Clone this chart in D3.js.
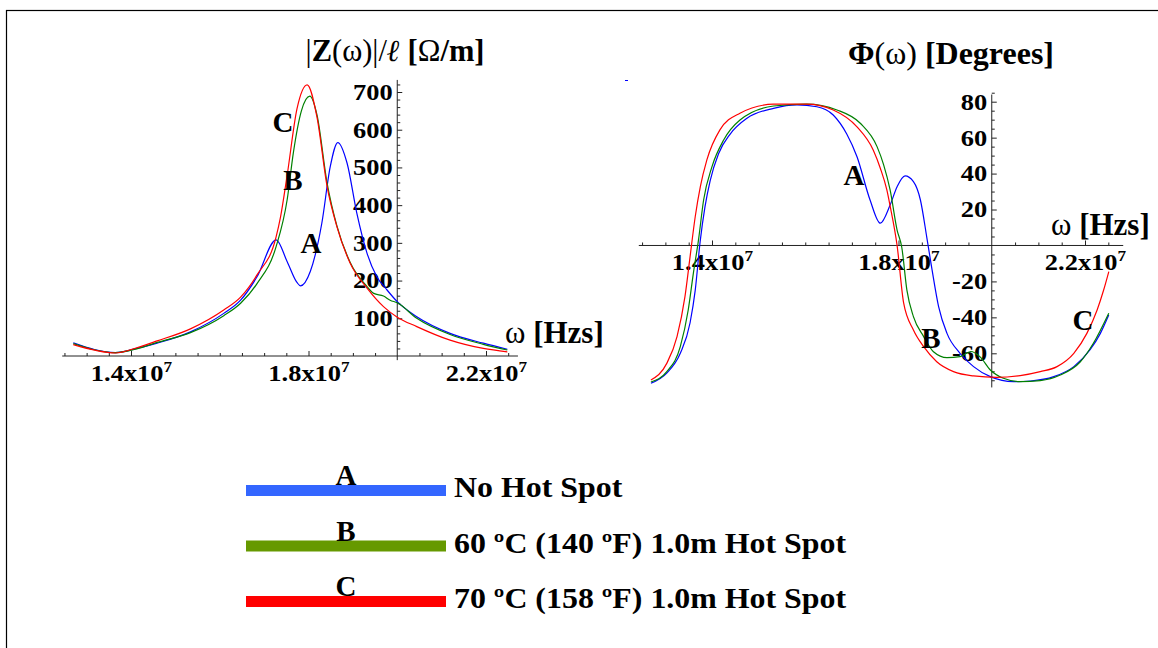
<!DOCTYPE html>
<html>
<head>
<meta charset="utf-8">
<script src="https://cdn.jsdelivr.net/npm/d3@7"></script>
<style>
  body { margin: 0; background: #fff; }
  svg { display: block; }
  text { font-family: "Liberation Serif", "Times New Roman", serif; font-weight: bold; fill: #000; }
</style>
</head>
<body>
<svg id="chart" width="1158" height="648"></svg>
<script>
// ---- data (frequency in units of 1e7 Hz) ----
// |Z(w)|/l  [Ohm/m]
const magFreqA = [1.27, 1.365, 1.413, 1.459, 1.534, 1.609, 1.647, 1.684, 1.727, 1.752, 1.774, 1.782, 1.804, 1.830, 1.849, 1.866, 1.887, 1.909, 1.932, 1.954, 1.977, 2.0, 2.044, 2.119, 2.194, 2.248];
const magA     = [35, 9, 20, 34, 64, 113, 148, 210, 308, 250, 195, 186, 224, 352, 502, 566, 511, 378, 272, 210, 175, 144, 104, 60, 34, 18];
const magFreqB = [1.27, 1.365, 1.413, 1.459, 1.534, 1.609, 1.647, 1.684, 1.727, 1.752, 1.766, 1.784, 1.803, 1.819, 1.842, 1.864, 1.894, 1.932, 1.947, 1.969, 1.984, 2.0, 2.044, 2.119, 2.194, 2.248];
const magB     = [33, 9, 19, 36, 62, 107, 140, 192, 290, 415, 540, 650, 689, 640, 458, 345, 248, 184, 166, 159, 148, 141, 100, 57, 31, 16];
const magFreqC = [1.27, 1.365, 1.413, 1.459, 1.534, 1.609, 1.647, 1.684, 1.727, 1.737, 1.752, 1.774, 1.797, 1.819, 1.842, 1.864, 1.894, 1.932, 1.969, 2.0, 2.044, 2.119, 2.194, 2.248];
const magC     = [30, 8, 22, 40, 72, 122, 156, 215, 316, 369, 480, 655, 719, 634, 449, 343, 246, 180, 131, 103, 78, 42, 20, 11];

// Phi(w) [degrees]
const phaseFreqA = [1.269, 1.303, 1.332, 1.353, 1.364, 1.3745, 1.385, 1.396, 1.414, 1.439, 1.475, 1.532, 1.582, 1.625, 1.66, 1.689, 1.711, 1.739, 1.761, 1.782, 1.797, 1.814, 1.832, 1.847, 1.861, 1.872, 1.886, 1.904, 1.932, 1.961, 1.997, 2.047, 2.083, 2.133, 2.176, 2.211, 2.233, 2.251];
const phaseA     = [-76.7, -71, -60, -43, -25, 2, 21.6, 36, 51, 62, 70.8, 76.3, 78.2, 77.2, 72.6, 62, 49.4, 25.3, 12.4, 22.5, 32.7, 38.7, 35.5, 25.3, 4, -13.6, -34, -48.9, -60, -67.4, -73, -75.8, -75.4, -73, -67.4, -58, -48.9, -38.7];
const phaseFreqB = [1.269, 1.303, 1.332, 1.349, 1.36, 1.371, 1.382, 1.40, 1.425, 1.46, 1.532, 1.603, 1.668, 1.718, 1.754, 1.768, 1.782, 1.797, 1.807, 1.818, 1.832, 1.854, 1.875, 1.904, 1.932, 1.955, 1.975, 1.997, 2.025, 2.061, 2.104, 2.147, 2.19, 2.218, 2.251];
const phaseB     = [-76, -70.2, -56.3, -35.9, -15.5, 3, 25.3, 43.9, 58.7, 69.8, 77.6, 78.7, 75.4, 68, 55, 45, 30.9, 8.6, -1, -24.8, -39.6, -50.7, -59.1, -62.4, -61.9, -59, -62, -69.3, -73.9, -75.8, -75.2, -72.1, -64.7, -54.4, -37.7];
const phaseFreqC = [1.269, 1.303, 1.325, 1.342, 1.353, 1.364, 1.375, 1.389, 1.417, 1.46, 1.532, 1.603, 1.66, 1.711, 1.746, 1.761, 1.775, 1.782, 1.797, 1.811, 1.832, 1.854, 1.882, 1.918, 1.961, 2.011, 2.061, 2.104, 2.14, 2.176, 2.204, 2.226, 2.24, 2.251];
const phaseC     = [-74.8, -65.6, -50.7, -28.5, -6.2, 16, 32.7, 47.6, 64.3, 73.6, 78.6, 78.7, 75.4, 66, 53, 43, 30.9, 22, 0, -32, -47, -56.3, -64.7, -70.2, -72.6, -73.4, -72.4, -70.2, -67.4, -60, -48.9, -35.9, -24.8, -14.6];

// ticks
const freqTicks = [1.4, 1.8, 2.2];
const magTicks = [100, 200, 300, 400, 500, 600, 700];
const phaseTicks = [-60, -40, -20, 20, 40, 60, 80];

// series / legend
const seriesNames = ["A", "B", "C"];
const legendLabels = ["No Hot Spot", "60 ºC (140 ºF) 1.0m Hot Spot", "70 ºC (158 ºF) 1.0m Hot Spot"];
const lineColors = ["#0000ff", "#008000", "#ff0000"];
const legendColors = ["#3366ff", "#669900", "#ff0000"];

// curve letter positions (data coords)
const magLabelPos = [[1.8056, 272], [1.765, 441], [1.7425, 593]];
const phaseLabelPos = [[1.7046, 33.9], [1.8697, -56.8], [2.1957, -47.3]];

const svg = d3.select("#chart");

// frame
svg.append("rect")
    .attr("x", 6.5).attr("y", 10.5)
    .attr("width", 1170).attr("height", 660)
    .attr("fill", "none").attr("stroke", "#000").attr("stroke-width", 1.2);

// stray blue dash in the original
svg.append("line")
    .attr("x1", 625).attr("x2", 628).attr("y1", 80.5).attr("y2", 80.5)
    .attr("stroke", "#0000ff").attr("stroke-width", 1);

// minor ticks every 0.05e7, skipping majors and the 2.0 axis crossing
const minorFreq = d3.range(125, 230, 5).map(v => v / 100)
    .filter(v => !freqTicks.some(t => Math.abs(t - v) < 1e-6) && Math.abs(v - 2.0) > 1e-6);

function drawPanel(p) {
    const g = svg.append("g");
    const x0 = p.x(p.originX), y0 = p.y(0);

    // x axis
    g.append("line")
        .attr("x1", p.x(p.xExtent[0])).attr("x2", p.x(p.xExtent[1]))
        .attr("y1", y0).attr("y2", y0)
        .attr("stroke", "#222").attr("stroke-width", 1);
    // y axis
    g.append("line")
        .attr("x1", x0).attr("x2", x0)
        .attr("y1", p.y(p.yExtent[0])).attr("y2", p.y(p.yExtent[1]))
        .attr("stroke", "#222").attr("stroke-width", 1);

    // x ticks
    const xMinor = g.append("g").attr("transform", `translate(0,${y0})`)
        .call(d3.axisBottom(p.x).tickValues(minorFreq.filter(v => v <= p.xExtent[1]))
            .tickSize(-3).tickFormat(""));
    const xMajor = g.append("g").attr("transform", `translate(0,${y0})`)
        .call(d3.axisBottom(p.x).tickValues(freqTicks).tickSize(-5).tickPadding(p.xPad)
            .tickFormat(d => d.toFixed(1) + "x10"));
    xMajor.selectAll(".tick text")
        .attr("transform", "scale(1.15,1)")
        .append("tspan").attr("dy", -9).attr("font-size", 15).text("7");

    // y ticks (plain hyphen for negatives, as in the original)
    const yMinor = g.append("g").attr("transform", `translate(${x0},0)`)
        .call(d3.axisLeft(p.y).tickValues(p.yMinors).tickSize(-3).tickFormat(""));
    const yMajor = g.append("g").attr("transform", `translate(${x0},0)`)
        .call(d3.axisLeft(p.y).tickValues(p.yTicks).tickSize(-5).tickPadding(4)
            .tickFormat(d => String(d)));
    yMajor.selectAll(".tick text").attr("transform", "scale(1.15,1)");

    [xMinor, xMajor, yMinor, yMajor].forEach(a => {
        a.select(".domain").remove();
        a.selectAll(".tick line").attr("stroke", "#222");
        a.selectAll(".tick text")
            .attr("font-family", "Liberation Serif, Times New Roman, serif")
            .attr("font-weight", "bold").attr("font-size", 23).attr("fill", "#000");
    });

    // curves
    const line = d3.line().x(d => p.x(d[0])).y(d => p.y(d[1])).curve(d3.curveMonotoneX);
    p.series.forEach((s, i) => {
        g.append("path")
            .datum(d3.zip(s[0], s[1]))
            .attr("d", line)
            .attr("fill", "none")
            .attr("stroke", lineColors[i])
            .attr("stroke-width", 1.2);
    });

    // curve letters
    p.labels.forEach((pos, i) => {
        g.append("text")
            .attr("x", p.x(pos[0])).attr("y", p.y(pos[1]))
            .attr("text-anchor", "middle")
            .attr("font-size", 29)
            .text(seriesNames[i]);
    });

    // axis label w [Hzs]
    const wl = g.append("text")
        .attr("x", p.wLabel[0]).attr("y", p.wLabel[1])
        .attr("font-size", 31);
    wl.append("tspan").attr("font-weight", "normal").text("ω ");
    wl.append("tspan").text("[Hzs]");
    return g;
}

// ---- left: magnitude ----
const xMag = d3.scaleLinear().domain([1.4, 2.2]).range([131, 486]);
const yMag = d3.scaleLinear().domain([0, 700]).range([356, 92]);
drawPanel({
    x: xMag, y: yMag, originX: 2.0,
    xExtent: [1.245, 2.272], yExtent: [-11, 732],
    yTicks: magTicks,
    yMinors: d3.range(20, 721, 20).filter(v => v % 100 !== 0),
    xPad: 9,
    series: [[magFreqA, magA], [magFreqB, magB], [magFreqC, magC]],
    labels: magLabelPos,
    wLabel: [505, 343]
});

// ---- right: phase ----
const xPh = d3.scaleLinear().domain([1.4, 2.2]).range([712, 1085]);
const yPh = d3.scaleLinear().domain([-60, 80]).range([353.3, 101.7]);
drawPanel({
    x: xPh, y: yPh, originX: 2.0,
    xExtent: [1.243, 2.282], yExtent: [-79, 84],
    yTicks: phaseTicks,
    yMinors: d3.range(-75, 86, 5).filter(v => v % 20 !== 0),
    xPad: 8,
    series: [[phaseFreqA, phaseA], [phaseFreqB, phaseB], [phaseFreqC, phaseC]],
    labels: phaseLabelPos,
    wLabel: [1051, 235]
});

// ---- titles ----
const t1 = svg.append("text").attr("x", 395).attr("y", 61)
    .attr("text-anchor", "middle").attr("font-size", 30.5);
t1.append("tspan").attr("font-weight", "normal").text("|");
t1.append("tspan").text("Z");
t1.append("tspan").attr("font-weight", "normal").text("(ω)|/");
t1.append("tspan").attr("font-style", "italic").text("ℓ");
t1.append("tspan").text(" [");
t1.append("tspan").attr("font-weight", "normal").text("Ω");
t1.append("tspan").text("/m]");

const t2 = svg.append("text").attr("x", 951).attr("y", 64)
    .attr("text-anchor", "middle").attr("font-size", 32);
t2.append("tspan").text("Φ");
t2.append("tspan").attr("font-weight", "normal").text("(ω)");
t2.append("tspan").text(" [Degrees]");

// ---- legend ----
const legend = svg.append("g");
const legendY = d3.scalePoint().domain(seriesNames).range([485, 596]);
seriesNames.forEach((name, i) => {
    const y = legendY(name);
    legend.append("rect")
        .attr("x", 246).attr("y", y)
        .attr("width", 200).attr("height", 11)
        .attr("fill", legendColors[i]);
    legend.append("text")
        .attr("x", 346).attr("y", y)
        .attr("text-anchor", "middle")
        .attr("font-size", 29)
        .text(name);
    legend.append("text")
        .attr("transform", `translate(454,${y + 12}) scale(1.1,1)`)
        .attr("font-size", 29)
        .text(legendLabels[i]);
});
</script>
</body>
</html>
